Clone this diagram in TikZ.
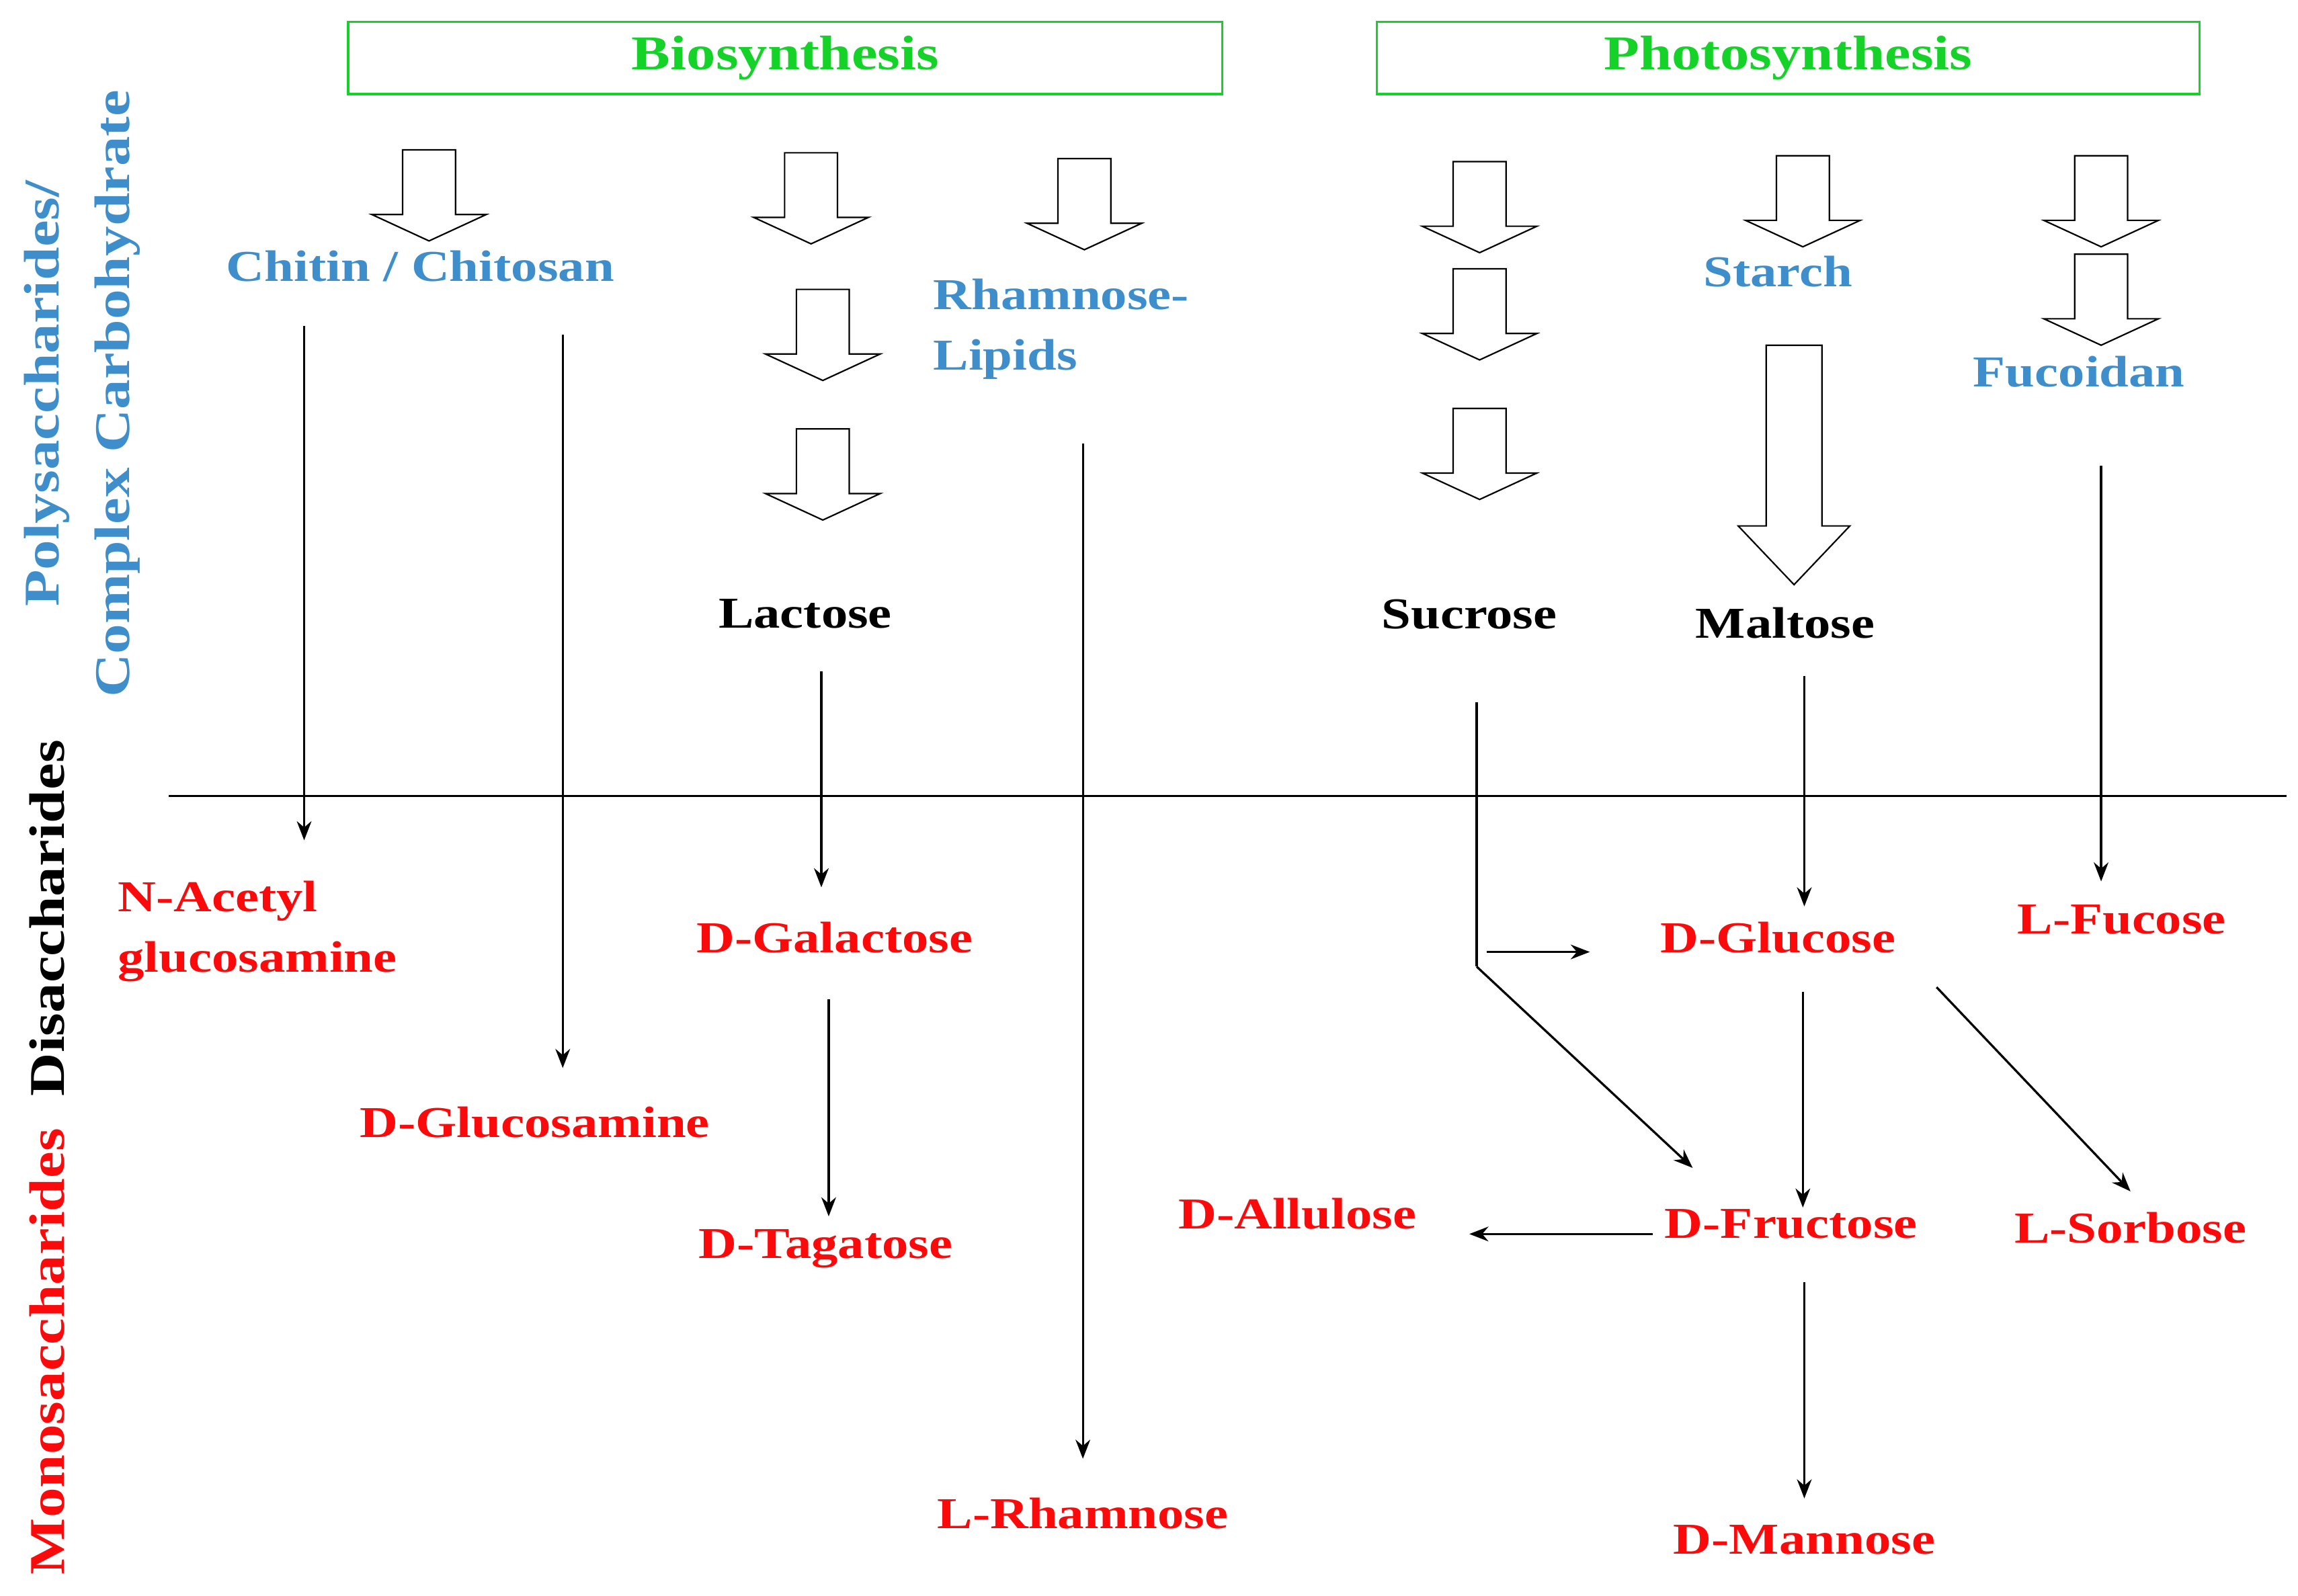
\documentclass[tikz,border=0pt]{standalone}
\usepackage{fontspec}
\setmainfont{Liberation Serif}[FakeStretch=1.2]
\usetikzlibrary{arrows.meta}
\definecolor{pblue}{RGB}{62,142,204}
\definecolor{pred}{RGB}{250,10,10}
\definecolor{pgreen}{RGB}{20,210,40}
\begin{document}
\begin{tikzpicture}[x=1pt,y=-1pt,
  lab/.style={font=\fontsize{30}{41}\selectfont\bfseries, inner sep=0pt},
  blab/.style={lab,text=pblue},
  rlab/.style={lab,text=pred},
  klab/.style={lab,text=black},
  slab/.style={font=\fontsize{34}{40}\selectfont\bfseries, inner sep=0pt, rotate=90},
  conn/.style={-{Stealth[length=13pt,width=10pt]}, line width=1.5pt},
  hol/.pic={\draw[line width=1pt,fill=white] (-18,0)--(18,0)--(18,44)--(39,44)--(0,62)--(-39,44)--(-18,44)--cycle;}]
\useasboundingbox (0,0) rectangle (1564,1086);
% boxes
\node[draw=pgreen,line width=1.5pt,minimum width=595pt,minimum height=49pt,inner sep=0pt,text=pgreen,font=\fontsize{33}{36}\selectfont\bfseries] (bio) at (534.5,39.5) {Biosynthesis};
\node[draw=pgreen,line width=1.5pt,minimum width=560pt,minimum height=49pt,inner sep=0pt,text=pgreen,font=\fontsize{33}{36}\selectfont\bfseries] (photo) at (1217,39.5) {Photosynthesis};
% hollow arrows
\pic at (292,102) {hol};
\pic at (552,104) {hol};
\pic at (560,197) {hol};
\pic at (560,292) {hol};
\pic at (738,108) {hol};
\pic at (1007,110) {hol};
\pic at (1007,183) {hol};
\pic at (1007,278) {hol};
\pic at (1227,106) {hol};
\pic at (1430,106) {hol};
\pic at (1430,173) {hol};
\draw[line width=1pt,fill=white] (1202,235)--(1240,235)--(1240,358)--(1259,358)--(1221,398)--(1183,358)--(1202,358)--cycle;
% divider
\draw[line width=1.5pt] (115,542)--(1556,542);
% side labels
\node[slab,text=pred] (mono) at (32,920) {Monosaccharides};
\node[slab,text=black] (disa) at (32,625) {Disaccharides};
\node[slab,text=pblue] (poly) at (32,268) {Polysaccharides/};
\node[slab,text=pblue] (side2) at (80,268) {Complex Carbohydrate};
% labels
\node[blab] (chitin) at (286,181) {Chitin / Chitosan};
\node[blab,align=left,anchor=west] (rham) at (635,224) {Rhamnose-\\Lipids};
\node[blab] (starch) at (1210,185) {Starch};
\node[blab] (fuc) at (1415,253) {Fucoidan};
\node[klab] (lac) at (548,418) {Lactose};
\node[klab] (suc) at (1000,418) {Sucrose};
\node[klab] (mal) at (1215,424) {Maltose};
\node[rlab,align=left,anchor=west] (nag) at (80,634) {N-Acetyl\\glucosamine};
\node[rlab] (glcn) at (364,764) {D-Glucosamine};
\node[rlab] (gal) at (568,638) {D-Galactose};
\node[rlab] (tag) at (562,850) {D-Tagatose};
\node[rlab] (lrh) at (737,1030) {L-Rhamnose};
\node[rlab] (glc) at (1210,638) {D-Glucose};
\node[rlab] (fucose) at (1444,626) {L-Fucose};
\node[rlab] (all) at (883,826) {D-Allulose};
\node[rlab] (fru) at (1219,833) {D-Fructose};
\node[rlab] (sor) at (1450,836) {L-Sorbose};
\node[rlab] (man) at (1228,1048) {D-Mannose};
% coordinates
\coordinate (a1) at (207,222); \coordinate (a2) at (207,572);
\coordinate (b1) at (383,228); \coordinate (b2) at (383,727);
\coordinate (c1) at (559,457); \coordinate (c2) at (559,604);
\coordinate (d1) at (564,680); \coordinate (d2) at (564,828);
\coordinate (e1) at (737,302); \coordinate (e2) at (737,993);
\coordinate (f1) at (1005,478); \coordinate (f2) at (1005,658);
\coordinate (f3) at (1012,648); \coordinate (f4) at (1082,648);
\coordinate (f5) at (1152,795);
\coordinate (g1) at (1228,460); \coordinate (g2) at (1228,617);
\coordinate (h1) at (1430,317); \coordinate (h2) at (1430,600);
\coordinate (i1) at (1227,675); \coordinate (i2) at (1227,822);
\coordinate (j1) at (1318,672); \coordinate (j2) at (1450,811);
\coordinate (k1) at (1125,840); \coordinate (k2) at (1000,840);
\coordinate (l1) at (1228,873); \coordinate (l2) at (1228,1020);
\draw[conn] (a1)--(a2);
\draw[conn] (b1)--(b2);
\draw[conn] (c1)--(c2);
\draw[conn] (d1)--(d2);
\draw[conn] (e1)--(e2);
\draw[line width=1.5pt] (f1)--(f2);
\draw[conn] (f3)--(f4);
\draw[conn] (f2)--(f5);
\draw[conn] (g1)--(g2);
\draw[conn] (h1)--(h2);
\draw[conn] (i1)--(i2);
\draw[conn] (j1)--(j2);
\draw[conn] (k1)--(k2);
\draw[conn] (l1)--(l2);
\end{tikzpicture}
\end{document}
